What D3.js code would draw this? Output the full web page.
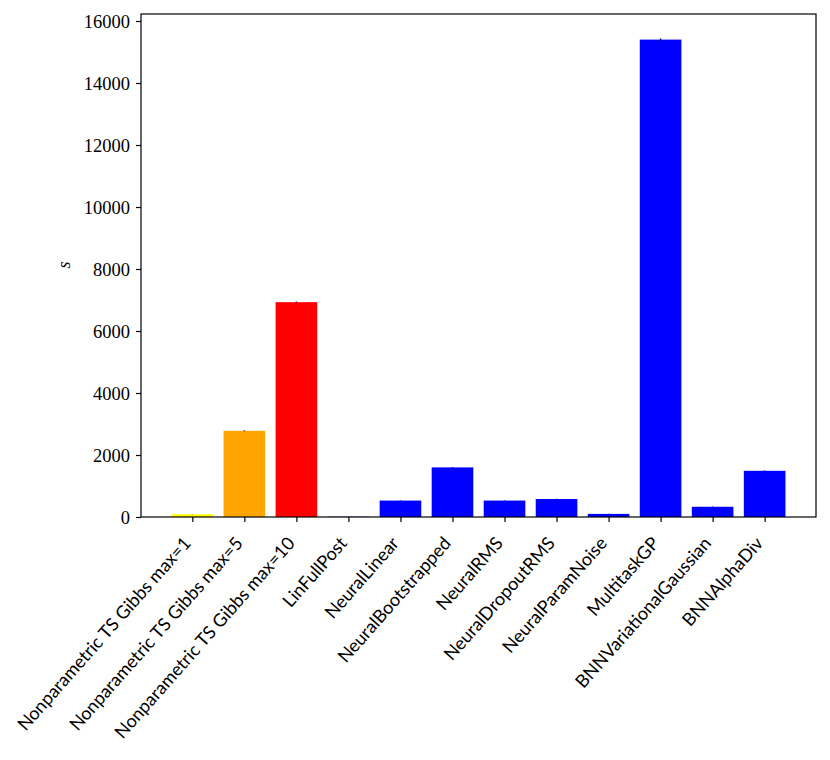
<!DOCTYPE html>
<html>
<head>
<meta charset="utf-8">
<script src="https://cdn.jsdelivr.net/npm/d3@7"></script>
<style>
  body { margin: 0; background: #fff; }
</style>
</head>
<body>
<svg id="chart" width="830" height="760"></svg>
<script>
// runtime in seconds per algorithm
var algorithms = [
  "Nonparametric TS Gibbs max=1",
  "Nonparametric TS Gibbs max=5",
  "Nonparametric TS Gibbs max=10",
  "LinFullPost",
  "NeuralLinear",
  "NeuralBootstrapped",
  "NeuralRMS",
  "NeuralDropoutRMS",
  "NeuralParamNoise",
  "MultitaskGP",
  "BNNVariationalGaussian",
  "BNNAlphaDiv"
];
var runtimes = [90, 2780, 6930, 8, 530, 1600, 530, 580, 100, 15400, 330, 1490];
var errors   = [5, 15, 20, 1, 10, 15, 10, 10, 5, 40, 8, 12];
var barColors = ["#ffff00", "#ffa500", "#ff0000", "#0000ff", "#0000ff", "#0000ff",
                 "#0000ff", "#0000ff", "#0000ff", "#0000ff", "#0000ff", "#0000ff"];
var yTicks = [0, 2000, 4000, 6000, 8000, 10000, 12000, 14000, 16000];

var margin = {left: 141, right: 14, top: 14, bottom: 243};
var width = 830, height = 760;

var svg = d3.select("#chart");

var x = d3.scaleLinear()
  .domain([-0.987, algorithms.length - 1 + 0.987])
  .range([margin.left, width - margin.right]);

var y = d3.scaleLinear()
  .domain([0, 16226])
  .range([height - margin.bottom, margin.top]);

var g = svg.append("g");

// bars
g.selectAll(".bar")
  .data(runtimes)
  .enter()
  .append("rect")
  .attr("class", "bar")
  .attr("x", function(d, i){ return x(i - 0.4); })
  .attr("width", function(){ return x(0.4) - x(-0.4); })
  .attr("y", function(d){ return y(d); })
  .attr("height", function(d){ return y(0) - y(d); })
  .style("fill", function(d, i){ return barColors[i]; });

// error bars
g.selectAll(".err")
  .data(runtimes)
  .enter()
  .append("line")
  .attr("class", "err")
  .attr("x1", function(d, i){ return x(i); })
  .attr("x2", function(d, i){ return x(i); })
  .attr("y1", function(d, i){ return y(Math.max(0, d - errors[i])); })
  .attr("y2", function(d, i){ return y(d + errors[i]); })
  .style("stroke", "#1f1f5f")
  .style("stroke-width", 1.5);

// y axis
var yAxis = d3.axisLeft(y).tickValues(yTicks).tickSize(5).tickPadding(6).tickFormat(d3.format("d"));
var ya = svg.append("g")
  .attr("transform", "translate(" + margin.left + ",0)")
  .call(yAxis)
  .attr("font-family", "Liberation Serif")
  .attr("font-size", 18.5);
ya.select(".domain").remove();
ya.selectAll("line").style("stroke", "#000").style("stroke-width", 1.2);
ya.selectAll("text").attr("fill", "#000").attr("dy", "0.35em");

// x axis
var xAxis = d3.axisBottom(x)
  .tickValues(d3.range(algorithms.length))
  .tickSize(5)
  .tickFormat(function(i){ return algorithms[i]; });
var xa = svg.append("g")
  .attr("transform", "translate(0," + (height - margin.bottom) + ")")
  .call(xAxis)
  .attr("font-family", "Lato")
  .attr("font-size", 18);
xa.select(".domain").remove();
xa.selectAll("line").style("stroke", "#000").style("stroke-width", 1.2);
xa.selectAll("text")
  .attr("text-anchor", "end")
  .attr("dy", "0")
  .attr("y", 0)
  .attr("fill", "#000")
  .attr("transform", "translate(-1,27) rotate(-48.5)");

// frame
svg.append("rect")
  .attr("x", margin.left)
  .attr("y", margin.top)
  .attr("width", width - margin.left - margin.right)
  .attr("height", height - margin.top - margin.bottom)
  .style("fill", "none")
  .style("stroke", "#000")
  .style("stroke-width", 1.2);

// y label
svg.append("text")
  .attr("transform", "translate(70,265) rotate(-90)")
  .attr("text-anchor", "middle")
  .attr("font-family", "Liberation Serif")
  .attr("font-style", "italic")
  .attr("font-size", 18)
  .text("s");
</script>
</body>
</html>
